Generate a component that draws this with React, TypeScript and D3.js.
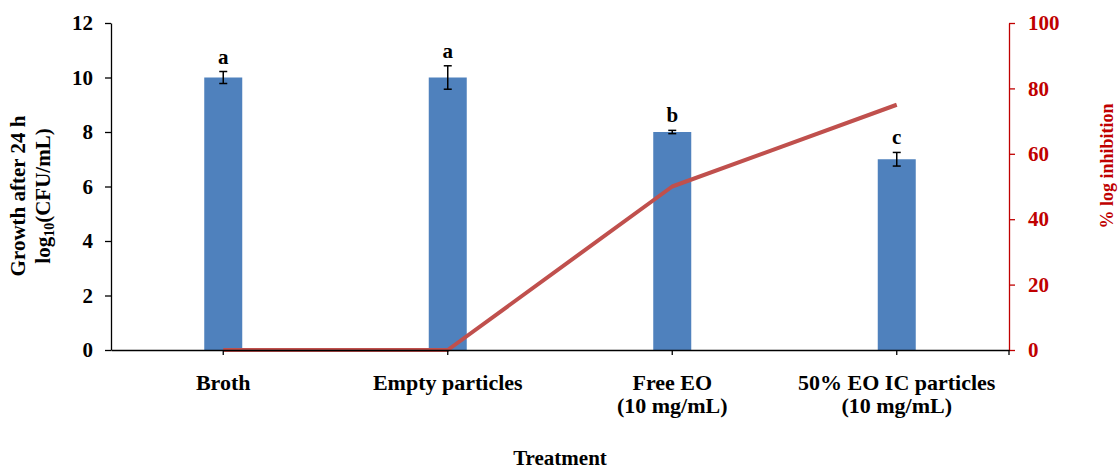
import { useEffect, useRef } from 'react'
import * as d3 from 'd3'

// data
const categories = ['Broth', 'Empty particles', 'Free EO|(10 mg/mL)', '50% EO IC particles|(10 mg/mL)']
const growth = [10, 10, 8, 7]
const growthErr = [0.22, 0.43, 0.06, 0.25]
const letters = ['a', 'a', 'b', 'c']
const inhibition = [0, 0, 50, 75]
const leftTicks = [0, 2, 4, 6, 8, 10, 12]
const rightTicks = [0, 20, 40, 60, 80, 100]

const App = () => {
  const svgRef = useRef<SVGSVGElement>(null)

  useEffect(() => {
    const svg = d3.select(svgRef.current)
    svg.selectAll('*').remove()

    const left = 111
    const right = 1009
    const top = 23
    const bottom = 350
    const font = '"Liberation Serif", "Times New Roman", serif'

    const x = d3.scaleBand<string>().domain(categories).range([left, right]).paddingInner(0).paddingOuter(0)
    const y = d3.scaleLinear().domain([0, 12]).range([bottom, top])
    const y2 = d3.scaleLinear().domain([0, 100]).range([bottom, top])
    const cx = (c: string) => (x(c) as number) + x.bandwidth() / 2
    const barW = 38

    // bars
    svg
      .selectAll('.bar')
      .data(categories)
      .enter()
      .append('rect')
      .attr('x', (d) => cx(d) - barW / 2)
      .attr('y', (d, i) => y(growth[i]))
      .attr('width', barW)
      .attr('height', (d, i) => bottom - y(growth[i]))
      .attr('fill', '#4F81BD')

    // error bars + significance letters
    const eb = svg.append('g').attr('stroke', '#000').attr('stroke-width', 1.5)
    categories.forEach((c, i) => {
      const hi = y(growth[i] + growthErr[i])
      const lo = y(growth[i] - growthErr[i])
      eb.append('line').attr('x1', cx(c)).attr('x2', cx(c)).attr('y1', hi).attr('y2', lo)
      eb.append('line').attr('x1', cx(c) - 4).attr('x2', cx(c) + 4).attr('y1', hi).attr('y2', hi)
      eb.append('line').attr('x1', cx(c) - 4).attr('x2', cx(c) + 4).attr('y1', lo).attr('y2', lo)
      svg
        .append('text')
        .attr('x', cx(c))
        .attr('y', hi - 8)
        .attr('text-anchor', 'middle')
        .style('font-family', font)
        .style('font-weight', 'bold')
        .style('font-size', '21px')
        .text(letters[i])
    })

    // line on secondary axis
    const line = d3
      .line<number>()
      .x((d, i) => cx(categories[i]))
      .y((d) => y2(d))
    svg
      .append('path')
      .datum(inhibition)
      .attr('d', line)
      .attr('fill', 'none')
      .attr('stroke', '#C0504D')
      .attr('stroke-width', 4)
      .attr('stroke-linejoin', 'round')

    // left axis
    const ga = svg
      .append('g')
      .attr('transform', `translate(${left},0)`)
      .call(d3.axisLeft(y).tickValues(leftTicks).tickSize(6).tickPadding(12).tickSizeOuter(0))
    ga.select('.domain').attr('stroke-width', 1.3)
    ga.selectAll('.tick line').attr('stroke-width', 1.3)
    ga.selectAll('text')
      .style('font-family', font)
      .style('font-weight', 'bold')
      .style('font-size', '21px')
      .attr('fill', '#000')

    // right axis
    const gr = svg
      .append('g')
      .attr('transform', `translate(${right},0)`)
      .call(d3.axisRight(y2).tickValues(rightTicks).tickSize(6).tickPadding(13).tickSizeOuter(0))
    gr.select('.domain').attr('stroke', '#C00000').attr('stroke-width', 1.3)
    gr.selectAll('.tick line').attr('stroke', '#C00000').attr('stroke-width', 1.3)
    gr.selectAll('text')
      .style('font-family', font)
      .style('font-weight', 'bold')
      .style('font-size', '21px')
      .attr('fill', '#C00000')

    // x axis
    const gx = svg
      .append('g')
      .attr('transform', `translate(0,${bottom})`)
      .call(d3.axisBottom(x).tickSize(5).tickSizeOuter(0).tickFormat(() => ''))
    gx.select('.domain').attr('stroke-width', 1.3)
    gx.selectAll('.tick line').attr('stroke-width', 1.3)
    gx.append('line').attr('x1', right).attr('x2', right).attr('y1', 0).attr('y2', 5).attr('stroke', '#000').attr('stroke-width', 1.3)

    categories.forEach((c) => {
      const t = svg
        .append('text')
        .attr('x', cx(c))
        .attr('y', 390)
        .attr('text-anchor', 'middle')
        .style('font-family', font)
        .style('font-weight', 'bold')
        .style('font-size', '22px')
      c.split('|').forEach((s, j) => {
        t.append('tspan').attr('x', cx(c)).attr('dy', j === 0 ? 0 : 23).text(s)
      })
    })

    // axis titles
    svg
      .append('text')
      .attr('x', 560)
      .attr('y', 465)
      .attr('text-anchor', 'middle')
      .style('font-family', font)
      .style('font-weight', 'bold')
      .style('font-size', '21px')
      .text('Treatment')

    const yt = svg
      .append('text')
      .attr('transform', `translate(25,196) rotate(-90)`)
      .attr('text-anchor', 'middle')
      .style('font-family', font)
      .style('font-weight', 'bold')
      .style('font-size', '21px')
    yt.append('tspan').attr('x', 0).attr('dy', 0).text('Growth after 24 h')
    const l2 = yt.append('tspan').attr('x', 0).attr('dy', 25)
    l2.append('tspan').text('log')
    l2.append('tspan').style('font-size', '14px').attr('dy', 4).text('10')
    l2.append('tspan').attr('dy', -4).text('(CFU/mL)')

    svg
      .append('text')
      .attr('transform', `translate(1113,166) rotate(-90)`)
      .attr('text-anchor', 'middle')
      .style('font-family', font)
      .style('font-weight', 'bold')
      .style('font-size', '18px')
      .attr('fill', '#C00000')
      .text('% log inhibition')
  }, [])

  return (
    <div style={{ position: 'absolute', left: 0, top: 0 }}>
      <svg ref={svgRef} width="1120" height="470" style={{ display: 'block', background: '#fff' }} />
    </div>
  )
}

export default App
